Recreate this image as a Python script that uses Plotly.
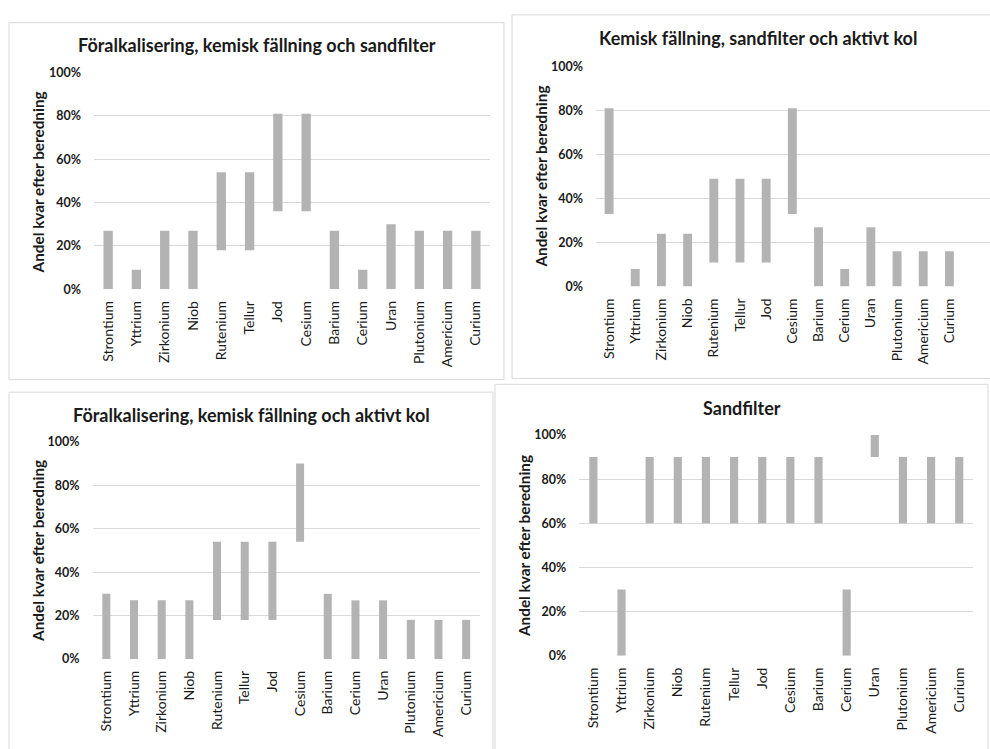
import plotly.graph_objects as go

# Elements shown on every category axis
elements = ["Strontium", "Yttrium", "Zirkonium", "Niob", "Rutenium", "Tellur", "Jod",
            "Cesium", "Barium", "Cerium", "Uran", "Plutonium", "Americium", "Curium"]

# Share remaining after treatment: lower and upper bound per element
titles = [
    "Föralkalisering, kemisk fällning och sandfilter",
    "Kemisk fällning, sandfilter och aktivt kol",
    "Föralkalisering, kemisk fällning och aktivt kol",
    "Sandfilter",
]

low_1 = [0, 0, 0, 0, 0.18, 0.18, 0.36, 0.36, 0, 0, 0, 0, 0, 0]
high_1 = [0.27, 0.09, 0.27, 0.27, 0.54, 0.54, 0.81, 0.81, 0.27, 0.09, 0.30, 0.27, 0.27, 0.27]

low_2 = [0.33, 0, 0, 0, 0.11, 0.11, 0.11, 0.33, 0, 0, 0, 0, 0, 0]
high_2 = [0.81, 0.08, 0.24, 0.24, 0.49, 0.49, 0.49, 0.81, 0.27, 0.08, 0.27, 0.16, 0.16, 0.16]

low_3 = [0, 0, 0, 0, 0.18, 0.18, 0.18, 0.54, 0, 0, 0, 0, 0, 0]
high_3 = [0.30, 0.27, 0.27, 0.27, 0.54, 0.54, 0.54, 0.90, 0.30, 0.27, 0.27, 0.18, 0.18, 0.18]

low_4 = [0.6, 0, 0.6, 0.6, 0.6, 0.6, 0.6, 0.6, 0.6, 0, 0.9, 0.6, 0.6, 0.6]
high_4 = [0.9, 0.3, 0.9, 0.9, 0.9, 0.9, 0.9, 0.9, 0.9, 0.3, 1.0, 0.9, 0.9, 0.9]

y_ticks = [0, 0.2, 0.4, 0.6, 0.8, 1.0]
y_title = "Andel kvar efter beredning"

W, H = 990, 749
FONT = "Lato, 'Open Sans', sans-serif"
BAR = "#b3b3b3"
GRID = "#d9d9d9"
INK = "#1a1a1a"


def px_x(x):
    return x / W


def px_y(y):
    return 1 - y / H


# Panel layout in pixels: plot area (left, right, y of 0%, y of 100%),
# category range, bar width, frame box, title centre, y-title centre
panels = [
    dict(low=low_1, high=high_1, plot=(94, 490, 287, 66), xr=(-0.5, 13.5), bw=0.33,
         box=(9, 15, 504, 379), tc=(257, 38), yc=(38, 178)),
    dict(low=low_2, high=high_2, plot=(596, 990, 284.3, 59.5), xr=(-0.5, 14.55), bw=0.34,
         box=(512, 7, 1000, 378), tc=(758, 31), yc=(541, 172)),
    dict(low=low_3, high=high_3, plot=(92.5, 480, 664.3, 442.7), xr=(-0.5, 13.5), bw=0.29,
         box=(9, 392, 493, 760), tc=(252, 415), yc=(38, 554)),
    dict(low=low_4, high=high_4, plot=(579.3, 973.3, 661, 435.7), xr=(-0.5, 13.5), bw=0.29,
         box=(495, 384, 988, 760), tc=(742, 408), yc=(524, 549)),
]

fig = go.Figure()
annotations = []
shapes = []

for i, (p, title) in enumerate(zip(panels, titles), start=1):
    suffix = "" if i == 1 else str(i)
    heights = [h - l for l, h in zip(p["low"], p["high"])]
    fig.add_trace(go.Bar(
        x=elements, y=heights, base=p["low"], width=p["bw"],
        marker=dict(color=BAR, line=dict(width=0)),
        xaxis="x" + suffix, yaxis="y" + suffix, showlegend=False,
        hoverinfo="x+y",
    ))
    left, right, y0, y100 = p["plot"]
    fig.layout["xaxis" + suffix] = dict(
        domain=[px_x(left), min(px_x(right), 1.0)], anchor="y" + suffix,
        type="category", categoryorder="array", categoryarray=elements,
        range=list(p["xr"]), tickangle=-90, showgrid=False, zeroline=False,
        showline=False, ticks="", ticklabelstandoff=8,
        tickfont=dict(family=FONT, size=14, color=INK), fixedrange=True,
    )
    fig.layout["yaxis" + suffix] = dict(
        domain=[px_y(y0), px_y(y100)], anchor="x" + suffix,
        range=[0, 1], tickvals=y_ticks, tickformat=".0%",
        showgrid=True, gridcolor=GRID, gridwidth=1, zeroline=False,
        showline=False, ticks="", ticklabelstandoff=12,
        tickfont=dict(family=FONT, size=12.5, color=INK, weight="bold"), fixedrange=True,
    )
    # frame around each chart
    bx0, by0, bx1, by1 = p["box"]
    shapes.append(dict(type="rect", xref="paper", yref="paper",
                       x0=px_x(bx0), x1=px_x(bx1), y0=px_y(by1), y1=px_y(by0),
                       line=dict(color=GRID, width=1), layer="below"))
    annotations.append(dict(
        text=f"<b>{title}</b>", xref="paper", yref="paper",
        x=px_x(p["tc"][0]), y=px_y(p["tc"][1]), xanchor="center", yanchor="middle",
        showarrow=False, font=dict(family=FONT, size=18, color=INK)))
    annotations.append(dict(
        text=f"<b>{y_title}</b>", xref="paper", yref="paper",
        x=px_x(p["yc"][0]), y=px_y(p["yc"][1]), xanchor="center", yanchor="middle",
        textangle=-90, showarrow=False, font=dict(family=FONT, size=15.3, color=INK)))

fig.update_layout(
    width=W, height=H, margin=dict(l=0, r=0, t=0, b=0),
    paper_bgcolor="white", plot_bgcolor="white",
    barmode="overlay", bargap=0.6,
    annotations=annotations, shapes=shapes,
)

fig.write_html("out.html")
